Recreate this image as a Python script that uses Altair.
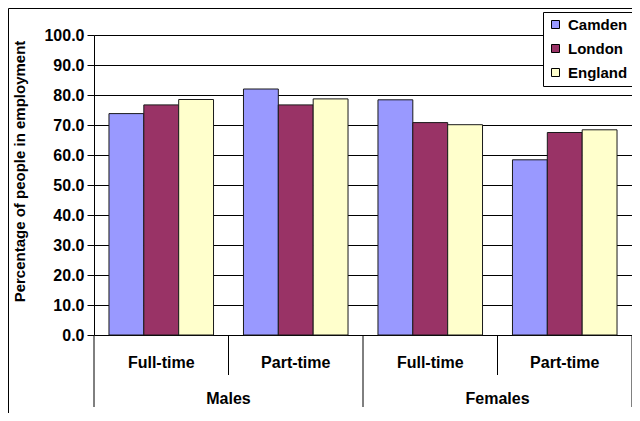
import altair as alt
import pandas as pd

genders = ["Males", "Males", "Females", "Females"]
patterns = ["Full-time", "Part-time", "Full-time", "Part-time"]
areas = ["Camden", "London", "England"]
camden = [73.8, 82.0, 78.4, 58.4]
london = [76.7, 76.7, 70.8, 67.5]
england = [78.5, 78.7, 70.1, 68.4]
colors = ["#9999FF", "#993366", "#FFFFCC"]
y_ticks = [0, 10, 20, 30, 40, 50, 60, 70, 80, 90, 100]
y_title = "Percentage of people in employment"

groups = [f"{g} {p}" for g, p in zip(genders, patterns)]
series = {"Camden": camden, "London": london, "England": england}

rows = []
for i, grp in enumerate(groups):
    for a in areas:
        rows.append({"group": grp, "area": a, "value": series[a][i]})
df = pd.DataFrame(rows)

FONT = "Liberation Sans"
W, H = 538, 300

x_enc = alt.X("group:N", sort=groups, axis=None,
              scale=alt.Scale(paddingInner=0, paddingOuter=0))

bars = alt.Chart(df).mark_bar(stroke="#1a1a1a", strokeWidth=1).encode(
    x=x_enc,
    xOffset=alt.XOffset("area:N", sort=areas,
                        scale=alt.Scale(paddingInner=0, paddingOuter=0.43)),
    y=alt.Y("value:Q",
            scale=alt.Scale(domain=[0, 100], nice=False, zero=True),
            axis=alt.Axis(values=y_ticks, format=".1f", title=y_title,
                          grid=True, gridColor="black", gridWidth=1,
                          domainColor="black", tickColor="black", tickSize=7,
                          labelFont=FONT, labelFontSize=16, labelFontWeight="bold",
                          labelColor="black", labelPadding=3,
                          titleFont=FONT, titleFontSize=15, titleFontWeight="bold",
                          titleColor="black", titleX=-75, titleY=136,
                          titleBaseline="middle", titleAlign="center", titleAngle=-90)),
    color=alt.Color("area:N", sort=areas,
                    scale=alt.Scale(domain=areas, range=colors),
                    legend=alt.Legend(title=None, orient="none", legendX=449, legendY=-23,
                                      strokeColor="black", fillColor="white",
                                      padding=5, rowPadding=8,
                                      symbolType="square", symbolSize=64,
                                      symbolStrokeColor="black", symbolStrokeWidth=1,
                                      symbolOpacity=1,
                                      labelFont=FONT, labelFontSize=15,
                                      labelFontWeight="bold", labelColor="black",
                                      labelOffset=5)),
)

lab_df = pd.DataFrame({"group": groups, "pattern": patterns})
pattern_labels = alt.Chart(lab_df).mark_text(
    font=FONT, fontSize=16, fontWeight="bold", color="black", baseline="middle"
).encode(x=alt.X("group:N", sort=groups, axis=None), y=alt.value(328), text="pattern:N")

gender_df = pd.DataFrame({"group": [groups[1], groups[3]], "gender": [genders[1], genders[3]]})
gender_labels = alt.Chart(gender_df).mark_text(
    font=FONT, fontSize=16, fontWeight="bold", color="black", baseline="middle"
).encode(x=alt.X("group:N", sort=groups, axis=None, bandPosition=0),
         y=alt.value(364), text="gender:N")

long0 = alt.Chart(pd.DataFrame({"group": [groups[0], groups[2]]})).mark_rule(
    color="black", strokeWidth=1
).encode(x=alt.X("group:N", sort=groups, axis=None, bandPosition=0),
         y=alt.value(300), y2=alt.value(372))
long1 = alt.Chart(pd.DataFrame({"group": [groups[3]]})).mark_rule(
    color="black", strokeWidth=1
).encode(x=alt.X("group:N", sort=groups, axis=None, bandPosition=1),
         y=alt.value(300), y2=alt.value(372))
short0 = alt.Chart(pd.DataFrame({"group": [groups[1], groups[3]]})).mark_rule(
    color="black", strokeWidth=1
).encode(x=alt.X("group:N", sort=groups, axis=None, bandPosition=0),
         y=alt.value(300), y2=alt.value(340))

frame = alt.Chart(pd.DataFrame({"k": [0]})).mark_rect(
    fill="white", fillOpacity=0, stroke="black", strokeWidth=1
).encode(x=alt.value(-85.5), x2=alt.value(600), y=alt.value(-26.5), y2=alt.value(420))

chart = alt.layer(frame, bars, long0, long1, short0, pattern_labels, gender_labels).properties(
    width=W, height=H,
    padding={"left": 86, "top": 27, "right": 0, "bottom": 78},
    autosize=alt.AutoSizeParams(type="none"),
).configure_view(stroke=None).configure(background="white")

chart.save("out.html", embed_options={"renderer": "svg", "actions": False})
